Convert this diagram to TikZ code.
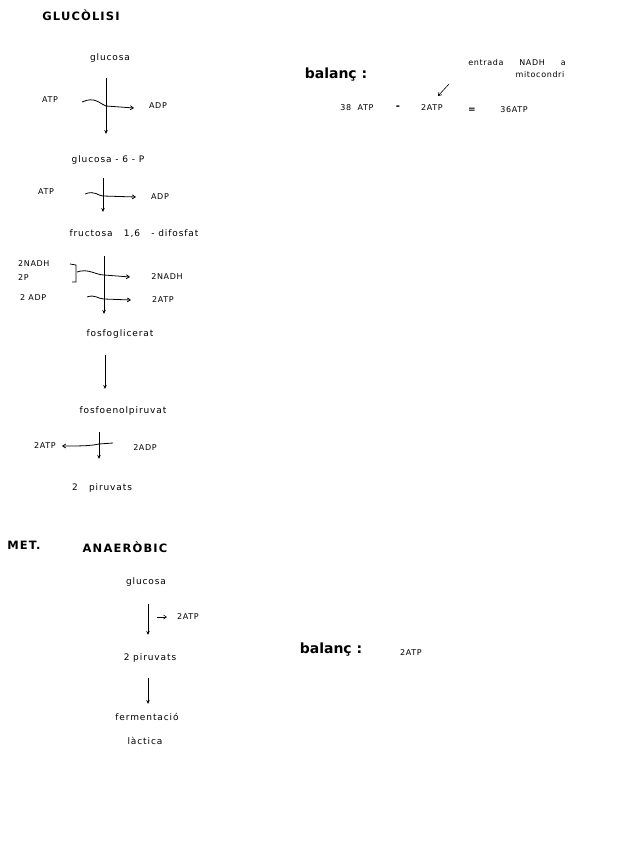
\documentclass[tikz,border=0pt]{standalone}
\usepackage{fontspec}
\setmainfont{DejaVu Sans}
\usetikzlibrary{arrows.meta}
\begin{document}
\begin{tikzpicture}[x=1pt,y=-1pt,
  txt/.style={inner sep=0pt,font=\fontsize{9}{11}\selectfont\addfontfeatures{LetterSpace=10}},
  sm/.style={inner sep=0pt,font=\fontsize{8}{10}\selectfont\addfontfeatures{LetterSpace=8}},
  head/.style={inner sep=0pt,font=\fontsize{11.5}{13}\selectfont\bfseries\addfontfeatures{LetterSpace=10}},
  bal/.style={inner sep=0pt,font=\fontsize{14}{16}\selectfont\bfseries},
  flow/.style={line width=0.8pt,-{Stealth[length=4pt,width=3.5pt,open]}},
  side/.style={line width=0.8pt,-{Straight Barb[length=3pt,width=4pt]}},
  ln/.style={line width=0.8pt}]
\useasboundingbox (0,0) rectangle (635,848);
\fill[white] (0,0) rectangle (635,848);
% title
\node[head] (t1) at (81,15) {GLUCÒLISI};
% step 1
\node[txt] (g1) at (110,58) {glucosa};
\coordinate (v1a) at (106,78);
\coordinate (v1b) at (106,134);
\draw[flow] (v1a) -- (v1b);
\node[sm] (atp1) at (50,100) {ATP};
\node[sm] (adp1) at (158,106) {ADP};
\coordinate (c1a) at (82,102);
\coordinate (c1b) at (134,108);
\draw[side] (c1a) .. controls (95,96) and (100,104) .. (106,106) -- (c1b);
\node[txt] (g6p) at (108,160) {glucosa - 6 - P};
% step 2
\coordinate (v2a) at (103,178);
\coordinate (v2b) at (103,212);
\draw[flow] (v2a) -- (v2b);
\node[sm] (atp2) at (46,192) {ATP};
\node[sm] (adp2) at (160,197) {ADP};
\coordinate (c2a) at (85,194);
\coordinate (c2b) at (136,197);
\draw[side] (c2a) .. controls (95,190) and (98,196) .. (103,196) -- (c2b);
\node[txt] (f16) at (134,234) {fructosa\ \ \ 1,6\ \ \ - difosfat};
% step 3
\coordinate (v3a) at (104,256);
\coordinate (v3b) at (104,314);
\draw[flow] (v3a) -- (v3b);
\node[sm,anchor=west] (nadh1) at (18,264) {2NADH};
\node[sm,anchor=west] (p2) at (18,278) {2P};
\draw[ln] (70,264) -- (76,265) -- (76,282) -- (72,282);
\coordinate (c3a) at (77,272);
\coordinate (c3b) at (130,277);
\draw[side] (c3a) .. controls (88,268) and (96,275) .. (104,275) -- (c3b);
\node[sm] (nadh2) at (167,277) {2NADH};
\node[sm,anchor=west] (adp3) at (20,298) {2 ADP};
\coordinate (c4a) at (87,297);
\coordinate (c4b) at (131,300);
\draw[side] (c4a) .. controls (95,294) and (98,299) .. (104,299) -- (c4b);
\node[sm] (atp3) at (163,300) {2ATP};
\node[txt] (fg) at (120,334) {fosfoglicerat};
% step 4
\coordinate (v4a) at (105,355);
\coordinate (v4b) at (105,389);
\draw[flow] (v4a) -- (v4b);
\node[txt] (fep) at (123,411) {fosfoenolpiruvat};
% step 5
\coordinate (v5a) at (99,432);
\coordinate (v5b) at (99,459);
\draw[flow] (v5a) -- (v5b);
\coordinate (c5a) at (113,443);
\coordinate (c5b) at (62,446);
\draw[side] (c5a) -- (99,444) .. controls (90,446) and (80,446) .. (c5b);
\node[sm] (atp5) at (45,446) {2ATP};
\node[sm] (adp5) at (145,448) {2ADP};
\node[txt] (pir1) at (102,488) {2\ \ \ piruvats};
% balanç 1
\node[bal] (b1) at (336,75) {balanç :};
\node[sm] (ent) at (517,63) {entrada\ \ \ \ \ NADH\ \ \ \ \ a};
\node[sm] (mit) at (540,75) {mitocondri};
\coordinate (ea) at (449,84);
\coordinate (eb) at (438,96);
\draw[side,line width=0.6pt] (ea) -- (eb);
\node[sm] (e38) at (357,108) {38\ \ ATP};
\node[txt,font=\fontsize{10}{12}\selectfont\bfseries] (em) at (398,108) {-};
\node[sm] (e2) at (432,108) {2ATP};
\node[sm,font=\fontsize{9}{11}\selectfont\bfseries] (eq) at (472,110) {=};
\node[sm] (e36) at (514,110) {36ATP};
% anaerobic
\node[head] (met) at (24,545) {MET.};
\node[head] (ana) at (125,547) {ANAERÒBIC};
\node[txt] (ag) at (146,582) {glucosa};
\coordinate (av1a) at (148,604);
\coordinate (av1b) at (148,635);
\draw[flow] (av1a) -- (av1b);
\coordinate (sa) at (157,617);
\coordinate (sb) at (167,617);
\draw[side,line width=0.6pt] (sa) -- (sb);
\node[sm] (a2atp) at (188,617) {2ATP};
\node[txt] (apir) at (150,658) {2\ piruvats};
\coordinate (av2a) at (148,678);
\coordinate (av2b) at (148,704);
\draw[flow] (av2a) -- (av2b);
\node[txt] (ferm) at (147,717) {fermentació};
\node[txt] (lact) at (145,741) {làctica};
\node[bal] (b2) at (331,650) {balanç :};
\node[sm] (b2v) at (411,653) {2ATP};
\end{tikzpicture}
\end{document}
